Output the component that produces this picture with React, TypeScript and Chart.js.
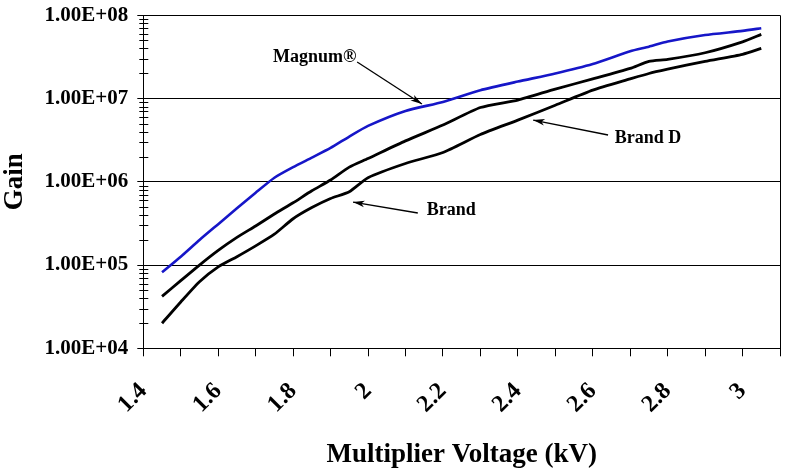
import React, { useEffect, useRef } from "react";
import { Chart, registerables } from "chart.js";

Chart.register(...registerables);

// ---- data ----
const voltages = [1.45, 1.5, 1.55, 1.6, 1.65, 1.7, 1.75, 1.8, 1.85, 1.9, 1.95, 2.0, 2.1, 2.2, 2.3, 2.4, 2.5, 2.6, 2.7, 2.75, 2.8, 2.9, 3.0, 3.05];
const magnumGain = [8.2e4, 1.26e5, 2.0e5, 3.1e5, 4.8e5, 7.4e5, 1.12e6, 1.5e6, 1.95e6, 2.55e6, 3.5e6, 4.7e6, 7.1e6, 9.1e6, 1.26e7, 1.6e7, 2.0e7, 2.6e7, 3.7e7, 4.2e7, 4.85e7, 5.8e7, 6.5e7, 7.0e7];
const brandGain = [4.2e4, 6.5e4, 1.0e5, 1.5e5, 2.15e5, 2.95e5, 4.1e5, 5.6e5, 7.8e5, 1.05e6, 1.5e6, 1.9e6, 3.1e6, 4.8e6, 7.8e6, 9.6e6, 1.3e7, 1.72e7, 2.3e7, 2.8e7, 2.95e7, 3.55e7, 4.8e7, 5.9e7];
const brandDGain = [2.0e4, 3.6e4, 6.3e4, 9.5e4, 1.26e5, 1.7e5, 2.35e5, 3.6e5, 4.9e5, 6.3e5, 7.6e5, 1.12e6, 1.66e6, 2.25e6, 3.7e6, 5.5e6, 8.3e6, 1.26e7, 1.72e7, 2.0e7, 2.25e7, 2.8e7, 3.4e7, 4.0e7];

const xMin = 1.4;
const xMax = 3.1;
const yMin = 1e4;
const yMax = 1e8;

const xTitle = "Multiplier Voltage (kV)";
const yTitle = "Gain";

// annotation labels (data coordinates)
const noteTexts = ["Magnum®", "Brand D", "Brand"];
const noteTextX = [1.746, 2.659, 2.157];
const noteTextY = [3.16e7, 3.36e6, 4.58e5];
const noteFromX = [1.971, 2.641, 2.133];
const noteFromY = [2.75e7, 3.65e6, 4.22e5];
const noteToX = [2.144, 2.441, 1.96];
const noteToY = [8.6e6, 5.52e6, 5.71e5];

const SERIF = '"Liberation Serif", "Times New Roman", serif';

function formatGain(v: number): string {
  const e = Math.round(Math.log10(v));
  return "1.00E+" + (e < 10 ? "0" + e : String(e));
}

function isDecade(v: number): boolean {
  const l = Math.log10(v);
  return Math.abs(l - Math.round(l)) < 1e-9;
}

const minorTickPlugin = {
  id: "minorTicks",
  afterDraw(chart: any) {
    const y = chart.scales.y;
    const ctx = chart.ctx;
    ctx.save();
    ctx.strokeStyle = "#000";
    ctx.lineWidth = 1;
    ctx.beginPath();
    for (const t of y.ticks) {
      if (isDecade(t.value)) continue;
      const py = Math.round(y.getPixelForValue(t.value)) + 0.5;
      ctx.moveTo(y.right - 4, py);
      ctx.lineTo(y.right + 5, py);
    }
    ctx.stroke();
    ctx.restore();
  },
};

const annotationPlugin = {
  id: "notes",
  afterDatasetsDraw(chart: any) {
    const { ctx } = chart;
    const x = chart.scales.x;
    const y = chart.scales.y;
    ctx.save();
    ctx.fillStyle = "#000";
    ctx.strokeStyle = "#000";
    ctx.lineWidth = 1.3;
    ctx.font = "bold 18px " + SERIF;
    ctx.textBaseline = "middle";
    ctx.textAlign = "left";
    for (let i = 0; i < noteTexts.length; i++) {
      ctx.fillText(noteTexts[i], x.getPixelForValue(noteTextX[i]), y.getPixelForValue(noteTextY[i]));
      const x0 = x.getPixelForValue(noteFromX[i]);
      const y0 = y.getPixelForValue(noteFromY[i]);
      const x1 = x.getPixelForValue(noteToX[i]);
      const y1 = y.getPixelForValue(noteToY[i]);
      ctx.beginPath();
      ctx.moveTo(x0, y0);
      ctx.lineTo(x1, y1);
      ctx.stroke();
      const ang = Math.atan2(y1 - y0, x1 - x0);
      const len = 12;
      const spread = 0.28;
      ctx.beginPath();
      ctx.moveTo(x1, y1);
      ctx.lineTo(x1 - len * Math.cos(ang - spread), y1 - len * Math.sin(ang - spread));
      ctx.lineTo(x1 - len * 0.7 * Math.cos(ang), y1 - len * 0.7 * Math.sin(ang));
      ctx.lineTo(x1 - len * Math.cos(ang + spread), y1 - len * Math.sin(ang + spread));
      ctx.closePath();
      ctx.fill();
    }
    ctx.restore();
  },
};

export default function App() {
  const ref = useRef<HTMLCanvasElement | null>(null);

  useEffect(() => {
    document.body.style.margin = "0";
    const canvas = ref.current;
    if (!canvas) return;
    const mk = (g: number[]) => voltages.map((v, i) => ({ x: v, y: g[i] }));
    const chart = new Chart(canvas, {
      type: "line",
      data: {
        datasets: [
          { label: "Magnum®", data: mk(magnumGain), borderColor: "#1616C8", borderWidth: 2.6, pointRadius: 0, tension: 0.2, fill: false },
          { label: "Brand", data: mk(brandGain), borderColor: "#000000", borderWidth: 2.8, pointRadius: 0, tension: 0.2, fill: false },
          { label: "Brand D", data: mk(brandDGain), borderColor: "#000000", borderWidth: 2.8, pointRadius: 0, tension: 0.2, fill: false },
        ],
      },
      options: {
        animation: false,
        responsive: false,
        maintainAspectRatio: false,
        layout: { padding: { left: 0, right: 16, top: 15.3, bottom: 0 } },
        plugins: { legend: { display: false }, tooltip: { enabled: false } },
        scales: {
          x: {
            type: "linear",
            min: xMin,
            max: xMax,
            afterFit: (s: any) => {
              s.height = 124.7;
              s.paddingLeft = 0;
              s.paddingRight = 0;
            },
            ticks: {
              stepSize: 0.1,
              autoSkip: false,
              minRotation: 45,
              maxRotation: 45,
              padding: 21,
              color: "#000",
              font: { family: SERIF, size: 24, weight: "bold" },
              callback: (v: any) => {
                const n = Math.round(Number(v) * 10);
                return n % 2 === 0 ? String(n / 10) : "";
              },
            },
            grid: {
              drawOnChartArea: true,
              drawTicks: true,
              tickLength: 8,
              tickColor: "#000",
              color: (c: any) => (c.tick && Math.abs(c.tick.value - xMax) < 1e-6 ? "#000" : "rgba(0,0,0,0)"),
              lineWidth: 1,
            },
            border: { display: true, color: "#000", width: 1 },
            title: {
              display: true,
              text: xTitle,
              color: "#000",
              font: { family: SERIF, size: 27, weight: "bold" },
              padding: { top: 0, bottom: 2 },
            },
          },
          y: {
            type: "logarithmic",
            min: yMin,
            max: yMax,
            afterFit: (s: any) => {
              s.width = 143.3;
              s.paddingTop = 0;
              s.paddingBottom = 0;
            },
            afterBuildTicks: (s: any) => {
              const t: any[] = [];
              for (let e = 4; e < 8; e++) {
                for (let m = 1; m <= 9; m++) t.push({ value: m * Math.pow(10, e), major: m === 1 });
              }
              t.push({ value: 1e8, major: true });
              s.ticks = t;
            },
            ticks: {
              autoSkip: false,
              padding: 9,
              color: "#000",
              font: { family: SERIF, size: 21, weight: "bold" },
              callback: (v: any) => (isDecade(Number(v)) ? formatGain(Number(v)) : ""),
            },
            grid: {
              drawOnChartArea: true,
              drawTicks: true,
              tickLength: 6,
              color: (c: any) => (c.tick && isDecade(c.tick.value) ? "#000" : "rgba(0,0,0,0)"),
              tickColor: (c: any) => (c.tick && isDecade(c.tick.value) ? "#000" : "rgba(0,0,0,0)"),
              lineWidth: 1,
            },
            border: { display: true, color: "#000", width: 1 },
            title: {
              display: true,
              text: yTitle,
              color: "#000",
              font: { family: SERIF, size: 27, weight: "bold", lineHeight: 1.1 },
              padding: { top: 0, bottom: 0 },
            },
          },
        },
      } as any,
      plugins: [minorTickPlugin, annotationPlugin],
    });
    return () => chart.destroy();
  }, []);

  return (
    <div style={{ width: 796, height: 473, background: "#fff" }}>
      <canvas ref={ref} width={796} height={473} style={{ display: "block" }} />
    </div>
  );
}
